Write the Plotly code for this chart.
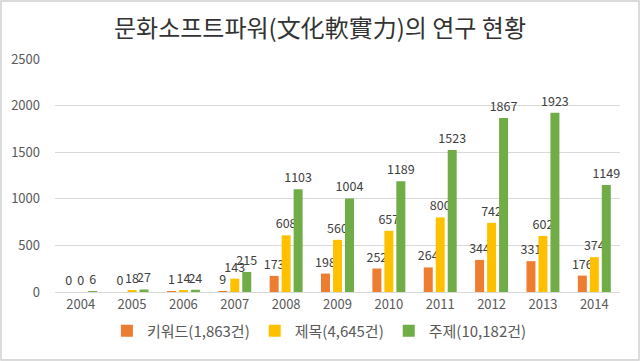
import plotly.graph_objects as go

years = ["2004", "2005", "2006", "2007", "2008", "2009", "2010", "2011", "2012", "2013", "2014"]
keyword = [0, 0, 1, 9, 173, 198, 252, 264, 344, 331, 176]
title_cnt = [0, 18, 14, 143, 608, 560, 657, 800, 742, 602, 374]
subject = [6, 27, 24, 215, 1103, 1004, 1189, 1523, 1867, 1923, 1149]
series_names = ["키워드(1,863건)", "제목(4,645건)", "주제(10,182건)"]
colors = ["#ED7D31", "#FFC000", "#70AD47"]

FONT = "Noto Sans CJK KR, Noto Sans, sans-serif"

fig = go.Figure()
for name, vals, col in zip(series_names, [keyword, title_cnt, subject], colors):
    fig.add_trace(go.Bar(
        x=years, y=vals, name=name,
        marker=dict(color=col, line=dict(width=0)),
        text=[str(v) for v in vals], textposition="outside",
        textfont=dict(size=12.5, color="#404040", family=FONT),
        cliponaxis=False, constraintext="none",
    ))

fig.update_layout(
    width=640, height=361,
    margin=dict(l=55, r=20, t=59, b=69),
    paper_bgcolor="white", plot_bgcolor="white",
    barmode="group", bargap=0.30, bargroupgap=0.25,
    title=dict(text="문화소프트파워(文化軟實力)의 연구 현황", x=0.5, xanchor="center",
               y=0.922, yanchor="middle",
               font=dict(size=24, color="#333333", family=FONT)),
    font=dict(family=FONT, color="#595959", size=12),
    xaxis=dict(type="category", showgrid=False, showline=True, linecolor="#D9D9D9",
               ticks="", tickfont=dict(size=13, color="#595959")),
    yaxis=dict(range=[0, 2500], dtick=500, showgrid=True, gridcolor="#D9D9D9",
               zeroline=False, ticks="", ticklabelstandoff=14,
               tickfont=dict(size=13, color="#595959")),
    legend=dict(orientation="h", x=0.468, xanchor="center", y=-0.167, yanchor="middle",
                font=dict(size=15, color="#595959", family=FONT), itemwidth=30,
                tracegroupgap=0),
    showlegend=True,
)

# light frame around the whole image
pw, ph = 565, 233
fig.add_shape(type="rect", xref="paper", yref="paper",
              x0=(1 - 55) / pw, x1=(639 - 55) / pw,
              y0=-(360 - 292) / ph, y1=1 + (59 - 1) / ph,
              line=dict(color="#D0D0D0", width=1.5), layer="below")

fig.write_html("out.html", config={"displayModeBar": False},
               post_script="document.body.style.margin='0px';")
